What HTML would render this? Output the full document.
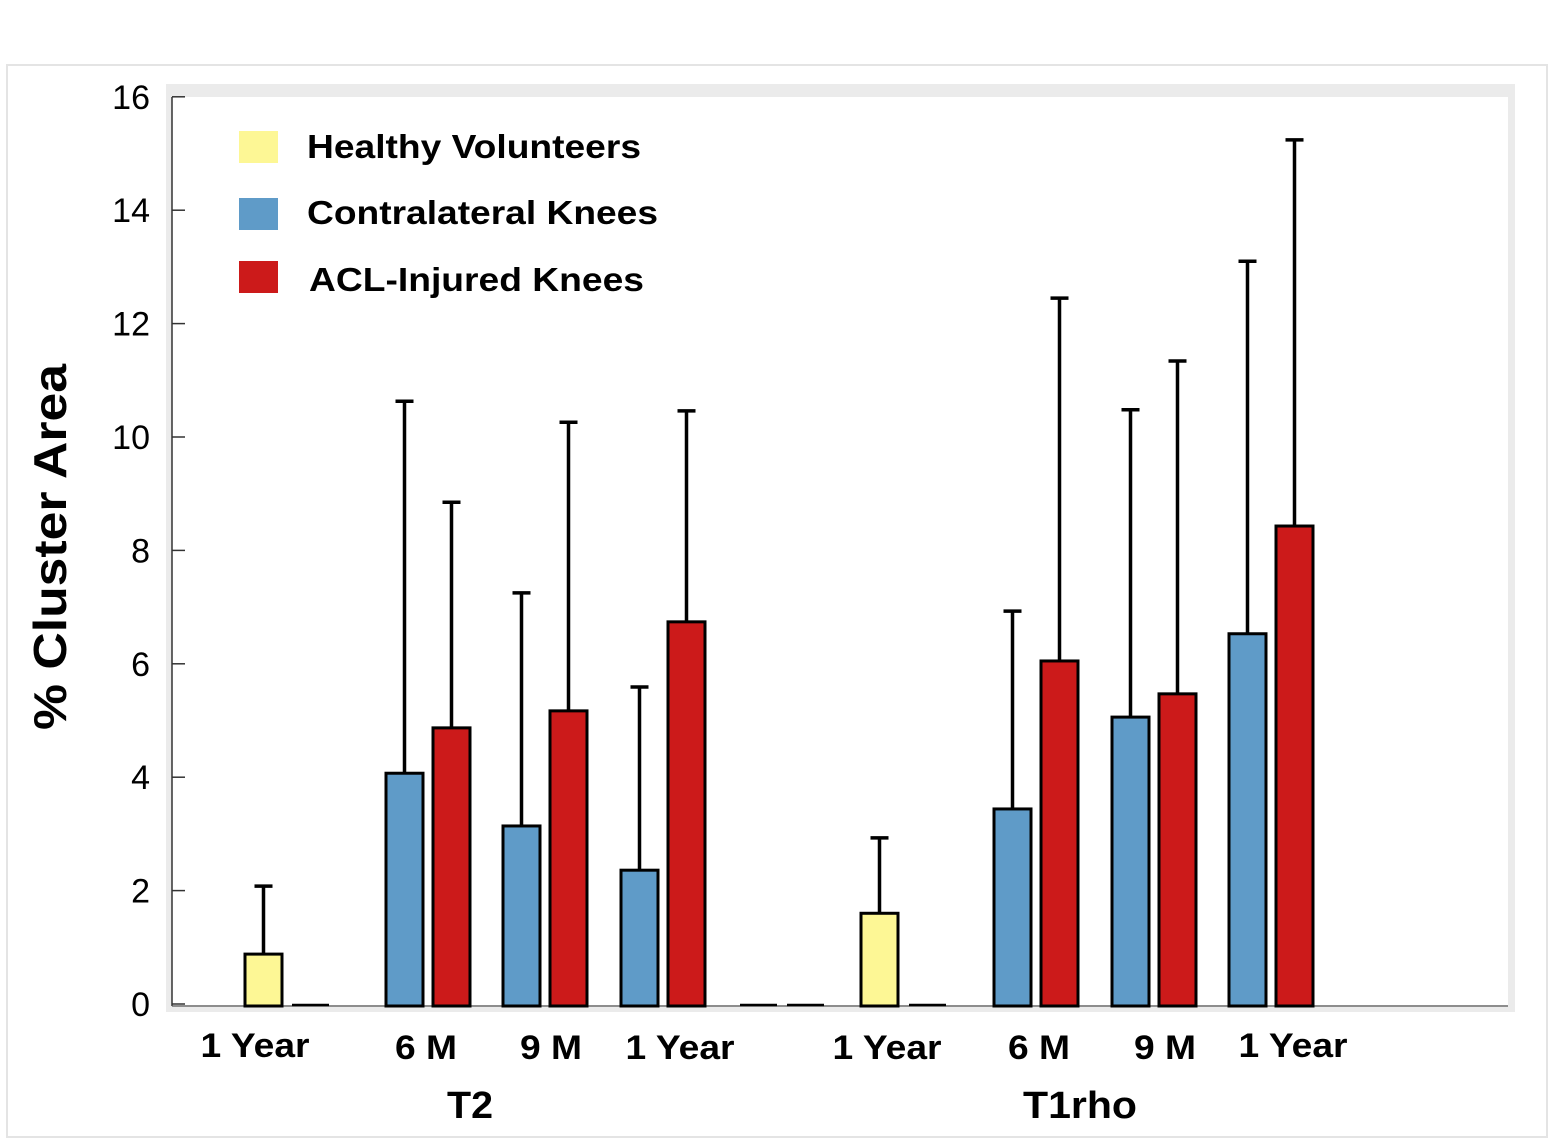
<!DOCTYPE html>
<html><head><meta charset="utf-8"><style>
html,body{margin:0;padding:0;background:#fff;}
svg{display:block;font-family:"Liberation Sans",Arial,sans-serif;}
</style></head><body>
<svg id="chart" width="1553" height="1146" viewBox="0 0 1553 1146">
<rect x="7" y="65" width="1540" height="1072" fill="#fff" stroke="#e4e4e4" stroke-width="2"/>
<rect x="166" y="84" width="1349" height="928" fill="#ebebeb"/>
<rect x="172" y="97" width="1336" height="908" fill="#fff"/>
<g id="axes"></g>
<g id="bars"></g>
<text transform="translate(66,547) rotate(-90)" text-anchor="middle" font-size="46" font-weight="bold" textLength="366" lengthAdjust="spacingAndGlyphs">% Cluster Area</text>
<g font-size="33" font-weight="bold">
<rect x="239" y="131" width="39" height="32" fill="#fdf795"/>
<text x="307" y="158" textLength="334" lengthAdjust="spacingAndGlyphs">Healthy Volunteers</text>
<rect x="239" y="198" width="39" height="32" fill="#5f9bc8"/>
<text x="307" y="224" textLength="351" lengthAdjust="spacingAndGlyphs">Contralateral Knees</text>
<rect x="239" y="261" width="39" height="32" fill="#cc1a1a"/>
<text x="309" y="291" textLength="335" lengthAdjust="spacingAndGlyphs">ACL-Injured Knees</text>
</g>
<g font-size="34" font-weight="bold" text-anchor="middle">
<text x="255" y="1057" textLength="109" lengthAdjust="spacingAndGlyphs">1 Year</text>
<text x="426" y="1059" textLength="62" lengthAdjust="spacingAndGlyphs">6 M</text>
<text x="551" y="1059" textLength="62" lengthAdjust="spacingAndGlyphs">9 M</text>
<text x="680" y="1059" textLength="109" lengthAdjust="spacingAndGlyphs">1 Year</text>
<text x="887" y="1059" textLength="109" lengthAdjust="spacingAndGlyphs">1 Year</text>
<text x="1039" y="1059" textLength="62" lengthAdjust="spacingAndGlyphs">6 M</text>
<text x="1165" y="1059" textLength="62" lengthAdjust="spacingAndGlyphs">9 M</text>
<text x="1293" y="1057" textLength="109" lengthAdjust="spacingAndGlyphs">1 Year</text>
<text x="470" y="1118" font-size="38" textLength="46" lengthAdjust="spacingAndGlyphs">T2</text>
<text x="1080" y="1118" font-size="38" textLength="114" lengthAdjust="spacingAndGlyphs">T1rho</text>
</g>
</svg>
<script>
const yTicks = [0,2,4,6,8,10,12,14,16];
const barCategories = ["T2 healthy 1Y","T2 zero","T2 contra 6M","T2 acl 6M","T2 contra 9M","T2 acl 9M","T2 contra 1Y","T2 acl 1Y","gap1","gap2","T1rho healthy 1Y","T1rho zero","T1rho contra 6M","T1rho acl 6M","T1rho contra 9M","T1rho acl 9M","T1rho contra 1Y","T1rho acl 1Y"];
const barGroups = ["healthy","zero","contra","acl","contra","acl","contra","acl","zero","zero","healthy","zero","contra","acl","contra","acl","contra","acl"];
const barValues = [0.88,0,4.07,4.87,3.14,5.17,2.36,6.74,0,0,1.6,0,3.44,6.05,5.06,5.47,6.53,8.43];
const errorTops = [2.08,null,10.63,8.85,7.25,10.26,5.59,10.46,null,null,2.93,null,6.93,12.45,10.48,11.34,13.1,15.24];
const barLefts = [245,292,386,433,503,550,621,668,740,787,861,909,994,1041,1112,1159,1229,1276];
const NS="http://www.w3.org/2000/svg";
const y0=1004, pxPerUnit=56.7;
function yScale(v){return y0 - v*pxPerUnit;}
const colors={healthy:"#fdf795",contra:"#5f9bc8",acl:"#cc1a1a",zero:"#fff"};
const axes=document.getElementById('axes');
function mk(tag,attrs,parent){const e=document.createElementNS(NS,tag);for(const k in attrs)e.setAttribute(k,attrs[k]);parent.appendChild(e);return e;}
let l=mk('line',{x1:172,y1:97,x2:172,y2:1006,stroke:'#333','stroke-width':1.5},axes);


l=mk('line',{x1:172,y1:1006,x2:1508,y2:1006,stroke:'#555','stroke-width':1.2},axes);


yTicks.forEach(t=>{
  const y=yScale(t);
  const tk=mk('line',{x1:172,y1:y,x2:185,y2:y,stroke:'#333','stroke-width':1.5},axes);
  
  
  const tx=mk('text',{x:150,y:y+12,'text-anchor':'end','font-size':34},axes);
  tx.textContent=t;
  
  
});
const bars=document.getElementById('bars');
barValues.forEach((v,i)=>{
  const x=barLefts[i], w=37, g=barGroups[i];
  const top=yScale(v);
  if(errorTops[i]!==null){
    const cx=x+w/2, et=yScale(errorTops[i]);
    const el=mk('line',{x1:cx,y1:top,x2:cx,y2:et,stroke:'#000','stroke-width':3.5},bars);
    
    
    const cap=mk('line',{x1:cx-9,y1:et,x2:cx+9,y2:et,stroke:'#000','stroke-width':3.5},bars);
    
    
  }
  let r;
  if(g==='zero'){
    r=mk('line',{x1:x,y1:y0+1,x2:x+w,y2:y0+1,stroke:'#000','stroke-width':2.5},bars);
  } else {
    r=mk('rect',{x:x,y:top,width:w,height:(y0+2)-top,fill:colors[g],stroke:'#000','stroke-width':3},bars);
  }
  
  
});
</script>
</body></html>
